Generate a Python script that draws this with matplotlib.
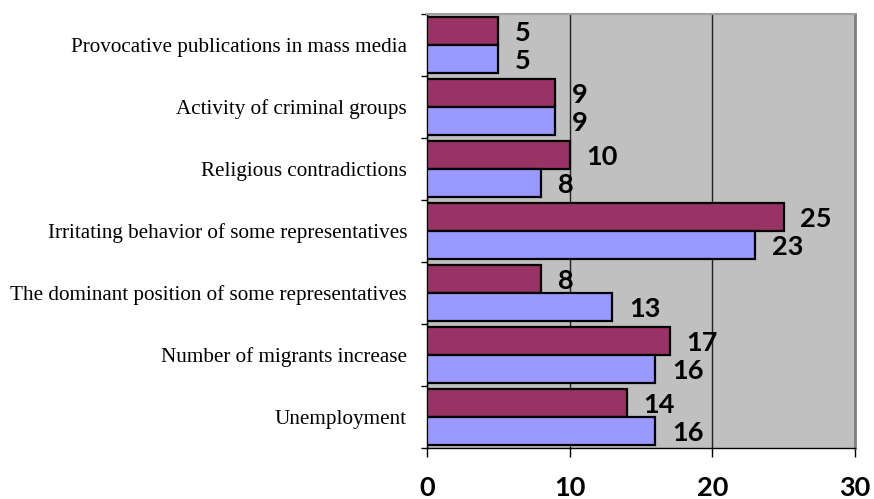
import matplotlib
matplotlib.use("Agg")
import matplotlib.pyplot as plt
import numpy as np

categories = [
    "Provocative publications in mass media",
    "Activity of criminal groups",
    "Religious contradictions",
    "Irritating behavior of some representatives",
    "The dominant position of some representatives",
    "Number of migrants increase",
    "Unemployment",
]
series_a = [5, 9, 10, 25, 8, 17, 14]   # maroon (upper bar)
series_b = [5, 9, 8, 23, 13, 16, 16]   # periwinkle (lower bar)
xticks = [0, 10, 20, 30]

fig = plt.figure(figsize=(8.74, 4.99), dpi=100)
ax = fig.add_axes([427/874, 1-448/499, (855-427)/874, (448-14)/499])
ax.set_facecolor("#C0C0C0")

n = len(categories)
centers = np.arange(n)[::-1].astype(float)  # top category at highest y
h = 0.455
off = 0.23
ba = ax.barh(centers + off, series_a, height=h, color="#993366", edgecolor="black", linewidth=1.6, zorder=3)
bb = ax.barh(centers - off, series_b, height=h, color="#9999FF", edgecolor="black", linewidth=1.6, zorder=3)

valfont = dict(family="Lato", weight="bold", size=19.5)
for bars, vals in ((ba, series_a), (bb, series_b)):
    for rect, v in zip(bars, vals):
        ax.annotate(str(v), xy=(rect.get_width(), rect.get_y() + rect.get_height()/2),
                    xytext=(12, -1.5), textcoords="offset points", ha="left", va="center",
                    zorder=4, **valfont)

ax.set_xlim(0, 30)
ax.set_ylim(-0.5, n - 0.5)
ax.set_xticks(xticks)
ax.set_xticklabels([str(t) for t in xticks], **valfont)
ax.tick_params(axis="x", direction="out", length=6.5, width=1, pad=14, color="black")

ax.set_yticks(centers)
ax.set_yticklabels(categories, family="Liberation Serif", size=15.2)
ax.tick_params(axis="y", which="major", length=0, pad=14.4)
ax.set_yticks(np.arange(n + 1) - 0.5, minor=True)
ax.tick_params(axis="y", which="minor", direction="out", length=4.3, width=1, color="black")

ax.xaxis.grid(True, color="#202020", linewidth=1.0, zorder=0)
ax.set_axisbelow(True)

ax.spines["left"].set_color("black")
ax.spines["left"].set_linewidth(1.0)
ax.spines["bottom"].set_color("black")
ax.spines["bottom"].set_linewidth(1.0)
ax.spines["right"].set_color("#808080")
ax.spines["right"].set_linewidth(2.0)
ax.spines["top"].set_color("#A0A0A0")
ax.spines["top"].set_linewidth(1.5)

fig.savefig("out.png", dpi=100)
